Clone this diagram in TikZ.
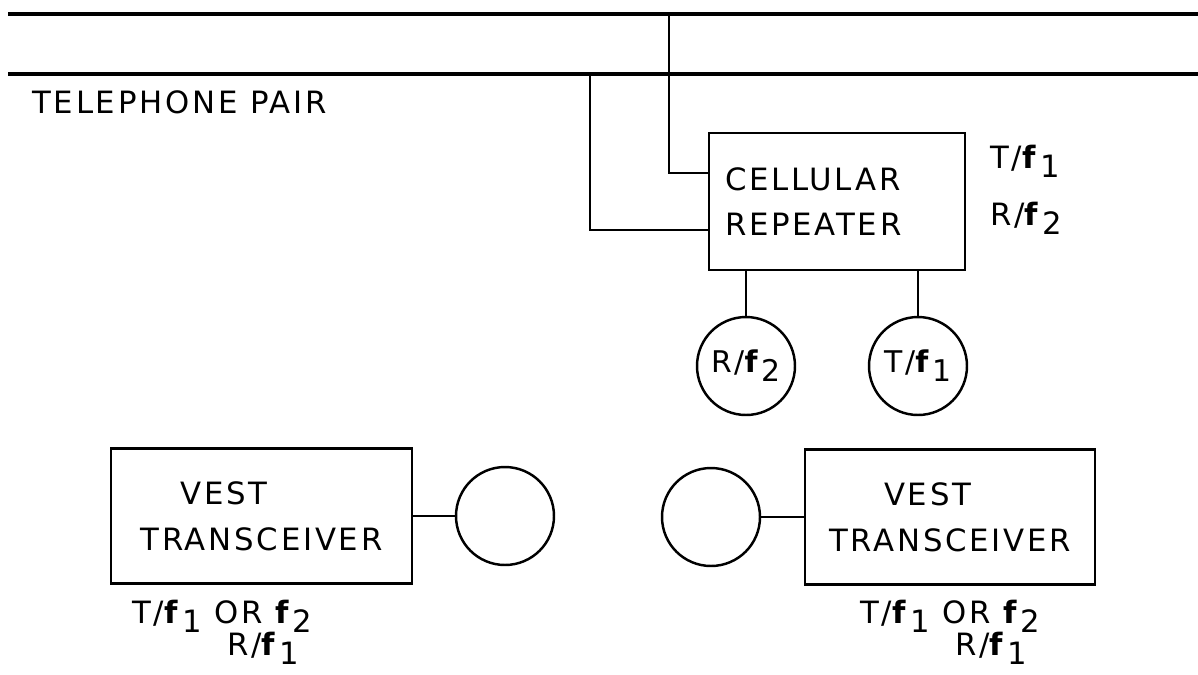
\documentclass[tikz,border=0pt]{standalone}
\usepackage{fontspec}
\setmainfont[LetterSpace=9]{DejaVu Sans}
\usetikzlibrary{positioning}
\newcommand{\fsub}[1]{{\bfseries f}\kern2.5pt\raisebox{-0.3em}{#1}}

\begin{document}
\begin{tikzpicture}[x=0.02cm,y=-0.02cm,every node/.style={font=\fontsize{17.5}{26}\selectfont,inner sep=0pt},pair/.style={line width=1.9pt},wire/.style={line width=1.2pt},unit/.style={draw,line width=1.6pt,align=left},antenna/.style={draw,circle,line width=1.4pt,minimum size=1.96cm,font=\fontsize{17}{20}\selectfont},lbl/.style={anchor=base west}]
\useasboundingbox (0,0) rectangle (1198,674);
\coordinate (tipL) at (8,14);\coordinate (tipR) at (1198,14);\coordinate (ringL) at (8,74);\coordinate (ringR) at (1198,74);
\draw[pair](tipL)--(tipR);\draw[pair](ringL)--(ringR);
\node[lbl](pairlbl) at (32,113){TELEPHONE PAIR};
\node[unit,minimum width=5.12cm,minimum height=2.74cm,text width=4.48cm,inner xsep=0.32cm](rep) at (837,201.5){CELLULAR\\REPEATER};
\coordinate (tapA) at (669,14);\coordinate (tapB) at (590,74);
\draw[wire](tapA)|-([yshift=0.57cm]rep.west);\draw[wire](tapB)|-([yshift=-0.57cm]rep.west);
\node[lbl](repT) at (990,168){T/\fsub{1}};\node[lbl](repR) at (990,225){R/\fsub{2}};
\node[antenna](rf2) at (746,366){R/\fsub{2}};\node[antenna](tf1) at (918,366){T/\fsub{1}};
\draw[wire](rf2)--(rf2|-rep.south);\draw[wire](tf1)--(tf1|-rep.south);
\node[unit,minimum width=6.02cm,minimum height=2.7cm](vestL) at (261.5,516){\hspace*{0.8cm}VEST\\TRANSCEIVER};
\node[antenna](antL) at (505,516){};\draw[wire](vestL.east)--(antL);
\node[unit,minimum width=5.8cm,minimum height=2.7cm](vestR) at (950,517){\hspace*{1.1cm}VEST\\TRANSCEIVER};
\node[antenna](antR) at (711,517){};\draw[wire](antR)--(vestR.west);
\node[lbl](vestLt) at (132,623){T/\fsub{1} OR \fsub{2}};\node[lbl](vestLr) at (227,655){R/\fsub{1}};
\node[lbl](vestRt) at (860,623){T/\fsub{1} OR \fsub{2}};\node[lbl](vestRr) at (955,655){R/\fsub{1}};
\end{tikzpicture}
\end{document}
